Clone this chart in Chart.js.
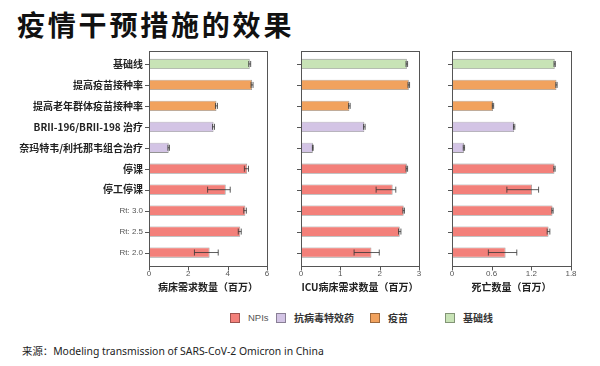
<!DOCTYPE html>
<html>
<head>
<meta charset="utf-8">
<script src="https://cdn.jsdelivr.net/npm/chart.js@4"></script>
<style>
  body { margin: 0; width: 600px; height: 366px; background: #fff; position: relative; overflow: hidden;
         font-family: "Noto Sans CJK SC", "Noto Sans", sans-serif; color: #222; }
  .title { position: absolute; left: 17px; top: 4px; font-size: 28px; font-weight: 700; letter-spacing: 2.8px; color: #111; }
  .panel { position: absolute; top: 40px; height: 258px; }
  .legend { position: absolute; top: 311px; font-size: 10px; line-height: 14px; }
  .legend span.box { position: absolute; top: 2px; width: 10px; height: 10px; border: 1px solid rgba(0,0,0,0.35); box-sizing: border-box; }
  .legend span.txt { position: absolute; top: 0; white-space: nowrap; font-weight: 700; color: #333; }
  .source { position: absolute; left: 22px; top: 343px; font-size: 10.4px; font-family: "Noto Sans", "Noto Sans CJK SC", sans-serif; }
</style>
</head>
<body>
<div class="title">疫情干预措施的效果</div>
<div class="panel" style="left:0;width:280px"><canvas id="c1"></canvas></div>
<div class="panel" style="left:280px;width:152px"><canvas id="c2"></canvas></div>
<div class="panel" style="left:432px;width:152px"><canvas id="c3"></canvas></div>
<div class="legend" id="legend"></div>
<div class="source">来源：Modeling transmission of SARS-CoV-2 Omicron in China</div>

<script>
// ── DATA ─────────────────────────────────────────────
const categories = ['基础线', '提高疫苗接种率', '提高老年群体疫苗接种率', 'BRII-196/BRII-198 治疗',
  '奈玛特韦/利托那韦组合治疗', '停课', '停工停课', 'Rt: 3.0', 'Rt: 2.5', 'Rt: 2.0'];
const groups = ['base', 'vax', 'vax', 'anti', 'anti', 'npi', 'npi', 'npi', 'npi', 'npi'];

// hospital beds (millions)
const bedValues = [5.12, 5.24, 3.43, 3.28, 1.00, 4.99, 3.90, 4.90, 4.64, 3.08];
const bedLow    = [5.07, 5.19, 3.38, 3.23, 0.96, 4.85, 2.98, 4.82, 4.54, 2.31];
const bedHigh   = [5.17, 5.29, 3.48, 3.33, 1.04, 5.06, 4.13, 4.95, 4.69, 3.52];

// ICU beds (millions)
const icuValues = [2.69, 2.74, 1.23, 1.61, 0.30, 2.69, 2.33, 2.61, 2.51, 1.79];
const icuLow    = [2.67, 2.72, 1.21, 1.59, 0.29, 2.67, 1.91, 2.59, 2.48, 1.35];
const icuHigh   = [2.71, 2.76, 1.25, 1.63, 0.31, 2.71, 2.41, 2.63, 2.54, 1.99];

// deaths (millions)
const deathValues = [1.553, 1.58, 0.62, 0.94, 0.18, 1.55, 1.21, 1.52, 1.46, 0.81];
const deathLow    = [1.543, 1.57, 0.61, 0.93, 0.17, 1.54, 0.83, 1.51, 1.44, 0.55];
const deathHigh   = [1.563, 1.59, 0.63, 0.95, 0.19, 1.56, 1.31, 1.53, 1.48, 0.98];

const legendLabels = { npi: 'NPIs', anti: '抗病毒特效药', vax: '疫苗', base: '基础线' };
const groupColors  = { npi: '#f3807a', anti: '#d3c4e5', vax: '#f1a25e', base: '#c8e3b6' };

// ── PLUGINS ──────────────────────────────────────────
// frame box + tick marks + error bars, all from the chart's own scales
const framePlugin = {
  id: 'frame',
  afterDatasetsDraw(chart, args, opts) {
    const { ctx, chartArea: a, scales: { x, y } } = chart;
    const top = a.top - 2.5, bottom = a.bottom + 2.7;
    ctx.save();
    // error bars
    ctx.strokeStyle = '#333';
    ctx.lineWidth = 0.8;
    opts.low.forEach((lo, i) => {
      const hi = opts.high[i];
      const py = y.getPixelForValue(i);
      const x0 = x.getPixelForValue(lo), x1 = x.getPixelForValue(hi);
      ctx.beginPath();
      ctx.moveTo(x0, py); ctx.lineTo(x1, py);
      ctx.moveTo(x0, py - 3); ctx.lineTo(x0, py + 3);
      ctx.moveTo(x1, py - 3); ctx.lineTo(x1, py + 3);
      ctx.stroke();
    });
    // frame
    ctx.strokeStyle = '#555';
    ctx.lineWidth = 1;
    ctx.strokeRect(Math.round(a.left) + 0.5, Math.round(top) + 0.5,
      Math.round(a.right - a.left), Math.round(bottom - top));
    // tick marks
    ctx.beginPath();
    x.ticks.forEach(t => {
      const px = Math.round(x.getPixelForValue(t.value)) + 0.5;
      ctx.moveTo(px, Math.round(bottom) + 0.5); ctx.lineTo(px, Math.round(bottom) + 4.5);
    });
    y.ticks.forEach((t, i) => {
      const py = Math.round(y.getPixelForValue(i)) + 0.5;
      ctx.moveTo(Math.round(a.left) - 4, py); ctx.lineTo(Math.round(a.left) + 0.5, py);
    });
    ctx.stroke();
    ctx.restore();
  }
};

function makeChart(id, values, low, high, max, step, title, yWidth, showLabels) {
  return new Chart(document.getElementById(id), {
    type: 'bar',
    data: {
      labels: categories,
      datasets: [{
        data: values,
        backgroundColor: groups.map(g => groupColors[g]),
        borderColor: 'rgba(60,60,60,0.55)',
        borderWidth: 0.8,
        barPercentage: 0.98,
        categoryPercentage: 0.5,
      }]
    },
    options: {
      indexAxis: 'y',
      responsive: true,
      maintainAspectRatio: false,
      animation: false,
      layout: { padding: { top: 13.5, right: 13, bottom: 0, left: 0 } },
      plugins: {
        legend: { display: false },
        tooltip: { enabled: false },
        frame: { low, high }
      },
      scales: {
        x: {
          min: 0, max: max,
          grid: { display: false, drawTicks: false },
          border: { display: false },
          ticks: {
            stepSize: step, padding: 6, color: '#555',
            autoSkip: false, maxRotation: 0, minRotation: 0,
            font: { size: 8, family: 'Liberation Sans, Arial, sans-serif' },
            callback: v => +v.toFixed(1)
          },
          title: {
            display: true, text: title, color: '#222',
            font: { size: 10, weight: 'bold', family: 'Noto Sans CJK SC' },
            padding: { top: 2, bottom: 4.5 }
          },
          afterFit: s => { s.height = 35; }
        },
        y: {
          grid: { display: false, drawTicks: false },
          border: { display: false },
          ticks: {
            display: showLabels, padding: 6,
            color: ctx => ctx.index >= 7 ? '#555' : '#222',
            font: ctx => ctx.index >= 7
              ? { size: 8, family: 'Liberation Sans, Arial, sans-serif' }
              : { size: 10, weight: 'bold', family: 'Noto Sans CJK SC' }
          },
          afterFit: s => { s.width = yWidth; }
        }
      }
    },
    plugins: [framePlugin]
  });
}

makeChart('c1', bedValues, bedLow, bedHigh, 6, 2, '病床需求数量（百万）', 149, true);
makeChart('c2', icuValues, icuLow, icuHigh, 3, 1, 'ICU病床需求数量（百万）', 21, false);
makeChart('c3', deathValues, deathLow, deathHigh, 1.8, 0.6, '死亡数量（百万）', 20, false);

// ── LEGEND ───────────────────────────────────────────
const legendOrder = ['npi', 'anti', 'vax', 'base'];
const legendBoxX  = [230, 276, 370, 445];
const legendEl = document.getElementById('legend');
legendOrder.forEach((g, i) => {
  const box = document.createElement('span');
  box.className = 'box';
  box.style.left = legendBoxX[i] + 'px';
  box.style.background = groupColors[g];
  const txt = document.createElement('span');
  txt.className = 'txt';
  txt.style.left = (legendBoxX[i] + 18) + 'px';
  txt.textContent = legendLabels[g];
  if (g === 'npi') { txt.style.fontWeight = 400; txt.style.color = '#555';
    txt.style.fontFamily = 'Liberation Sans, Arial, sans-serif'; txt.style.fontSize = '9.5px'; }
  legendEl.appendChild(box);
  legendEl.appendChild(txt);
});
</script>
</body>
</html>
